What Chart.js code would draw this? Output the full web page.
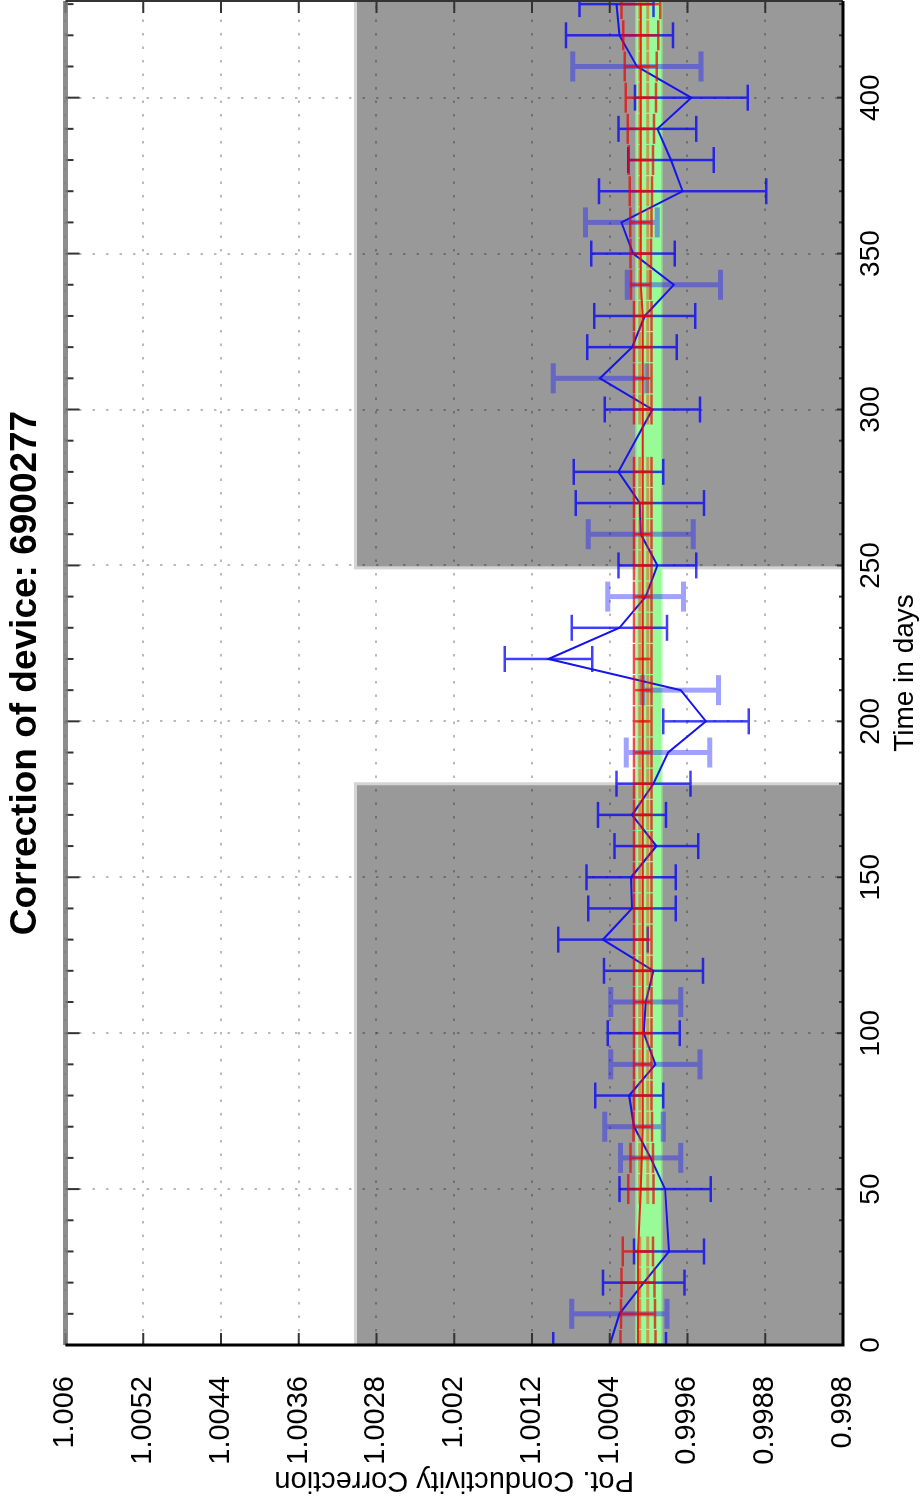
<!DOCTYPE html>
<html>
<head>
<meta charset="UTF-8">
<title>Correction of device: 6900277</title>
<script src="https://cdn.jsdelivr.net/npm/chart.js@4.4.1/dist/chart.umd.min.js"></script>
<style>
    html, body { margin: 0; padding: 0; background: #fff; overflow: hidden; }
    /* chart is drawn landscape, then turned a quarter to the left like the original */
    #wrap { position: absolute; left: 0; top: 0; width: 1499px; height: 922px;
            transform-origin: 0 0; transform: translate(0, 1499px) rotate(-90deg); }
    canvas { display: block; }
</style>
</head>
<body>
<div id="wrap"><canvas id="chart" width="1499" height="922"></canvas></div>
<script>
    var days = [0, 10, 20, 30, 50, 60, 70, 80, 90, 100, 110, 120, 130, 140, 150, 160, 170, 180, 190, 200,
        210, 220, 230, 240, 250, 260, 270, 280, 300, 310, 320, 330, 340, 350, 360, 370, 380, 390, 400, 410, 420, 430];
    var blueCorr = [1.00040, 1.00030, 1.00005, 0.99979, 0.99983, 0.99998, 1.00015, 1.00020, 0.99993, 1.00005,
        1.00003, 0.99995, 1.00047, 1.00017, 1.00018, 0.99992, 1.00017, 0.99995, 0.99980, 0.99941,
        0.99967, 1.00103, 1.00030, 1.00003, 0.99991, 1.00008, 1.00009, 1.00031, 0.99996, 1.00050,
        1.00017, 1.00004, 0.99974, 1.00016, 1.00028, 0.99965, 0.99977, 0.99991, 0.99956, 1.00012,
        1.00030, 1.00033];
    var blueErr = [0.00058, 0.00049, 0.00042, 0.00036, 0.00047, 0.00031, 0.00030, 0.00035, 0.00046, 0.00037,
        0.00036, 0.00051, 0.00046, 0.00045, 0.00046, 0.00043, 0.00035, 0.00038, 0.00043, 0.00044,
        0.00039, 0.00045, 0.00049, 0.00039, 0.00040, 0.00054, 0.00066, 0.00046, 0.00049, 0.00048,
        0.00046, 0.00052, 0.00048, 0.00043, 0.00037, 0.00086, 0.00044, 0.00040, 0.00058, 0.00066,
        0.00055, 0.00038];
    // profiles drawn with the paler error bars
    var lightDays = [10, 60, 70, 90, 110, 190, 210, 240, 260, 310, 340, 360, 410];

    var fitCorr = [1.00011, 1.00011, 1.00011, 1.00011, 1.00008, 1.00007, 1.00006, 1.00006, 1.00006, 1.00006,
        1.00006, 1.00006, 1.00006, 1.00006, 1.00006, 1.00006, 1.00006, 1.00006, 1.00006, 1.00006,
        1.00006, 1.00006, 1.00006, 1.00006, 1.00006, 1.00006, 1.00006, 1.00006, 1.00006, 1.00006,
        1.00006, 1.00006, 1.00008, 1.00008, 1.00008, 1.00008, 1.00008, 1.00008, 1.00008, 1.00008,
        1.00008, 1.00008];
    var fitErr = [0.000180, 0.000175, 0.000170, 0.000155, 0.000130, 0.000115, 0.000095, 0.000090, 0.000090, 0.000090,
        0.000090, 0.000090, 0.000090, 0.000090, 0.000090, 0.000090, 0.000090, 0.000090, 0.000090, 0.000090,
        0.000090, 0.000090, 0.000090, 0.000090, 0.000090, 0.000090, 0.000090, 0.000090, 0.000090, 0.000090,
        0.000090, 0.000090, 0.000100, 0.000105, 0.000110, 0.000115, 0.000125, 0.000135, 0.000155, 0.000165,
        0.000180, 0.000200];
    var fitLightCorr = 1.00005;
    var fitLightErr = 0.00004;

    var bandHigh = 1.000125;
    var bandLow = 0.99987;

    var grayFrom = [0, 249.7];
    var grayTo = [179.5, 431];
    var grayTop = 1.0030;

    var xMin = 0, xMax = 431;
    var yMin = 0.998, yMax = 1.006;
    var xTicks = [0, 50, 100, 150, 200, 250, 300, 350, 400];
    var yTicks = [0.998, 0.9988, 0.9996, 1.0004, 1.0012, 1.002, 1.0028, 1.0036, 1.0044, 1.0052, 1.006];
    var yTickLabels = ['0.998', '0.9988', '0.9996', '1.0004', '1.0012', '1.002', '1.0028', '1.0036', '1.0044', '1.0052', '1.006'];

    var FONT = "'Liberation Sans', Arial, Helvetica, sans-serif";

    function pts(xs, ys) {
        var out = [];
        for (var i = 0; i < xs.length; i++) out.push({ x: xs[i], y: ys[i] });
        return out;
    }

    function clipTo(ctx, a) {
        ctx.save();
        ctx.beginPath();
        ctx.rect(a.left, a.top, a.right - a.left, a.bottom - a.top);
        ctx.clip();
    }

    function errBar(chart, t, v, e, color, width, capHalf) {
        var ctx = chart.ctx, xs = chart.scales.x, ys = chart.scales.y;
        var px = xs.getPixelForValue(t);
        var lo = ys.getPixelForValue(v - e), hi = ys.getPixelForValue(v + e);
        ctx.strokeStyle = color;
        ctx.lineWidth = width;
        ctx.beginPath();
        ctx.moveTo(px, lo); ctx.lineTo(px, hi);
        ctx.moveTo(px - capHalf, lo); ctx.lineTo(px + capHalf, lo);
        ctx.moveTo(px - capHalf, hi); ctx.lineTo(px + capHalf, hi);
        ctx.stroke();
    }

    var grayPlugin = {
        id: 'grayPeriods',
        beforeDraw: function (chart) {
            var ctx = chart.ctx, a = chart.chartArea, xs = chart.scales.x, ys = chart.scales.y;
            clipTo(ctx, a);
            var yT = ys.getPixelForValue(grayTop), yB = ys.getPixelForValue(yMin);
            for (var i = 0; i < grayFrom.length; i++) {
                var x1 = xs.getPixelForValue(grayFrom[i]), x2 = xs.getPixelForValue(grayTo[i]);
                ctx.fillStyle = '#d4d4d4';
                ctx.fillRect(x1 - 3, yT - 3, x2 - x1 + 6, yB - yT + 3);
                ctx.fillStyle = '#999999';
                ctx.fillRect(x1, yT, x2 - x1, yB - yT);
            }
            ctx.restore();
        }
    };

    var errorBarPlugin = {
        id: 'errorBars',
        beforeDatasetDraw: function (chart, args) {
            if (chart.data.datasets[args.index].label !== 'blue') return;
            var ctx = chart.ctx;
            clipTo(ctx, chart.chartArea);
            for (var i = 0; i < days.length; i++) {
                if (lightDays.indexOf(days[i]) >= 0)
                    errBar(chart, days[i], blueCorr[i], blueErr[i], 'rgba(30,30,255,0.42)', 5, 15);
                else
                    errBar(chart, days[i], blueCorr[i], blueErr[i], 'rgba(0,0,250,0.75)', 2.5, 13);
            }
            ctx.restore();
        },
        afterDatasetDraw: function (chart, args) {
            if (chart.data.datasets[args.index].label !== 'fit') return;
            var ctx = chart.ctx;
            clipTo(ctx, chart.chartArea);
            for (var i = 0; i < days.length; i++) {
                errBar(chart, days[i], fitLightCorr, fitLightErr, 'rgba(255,40,0,0.45)', 3, 15);
                errBar(chart, days[i], fitCorr[i], fitErr[i], 'rgba(235,0,0,0.7)', 2.5, 15);
            }
            ctx.restore();
        }
    };

    var framePlugin = {
        id: 'frame',
        afterDraw: function (chart) {
            var ctx = chart.ctx, a = chart.chartArea, xs = chart.scales.x, ys = chart.scales.y;
            ctx.save();
            // inward tick marks
            ctx.strokeStyle = '#333';
            ctx.lineWidth = 2;
            ctx.beginPath();
            for (var t = 0; t <= 430; t += 10) {
                var px = xs.getPixelForValue(t);
                var major = t % 50 === 0;
                ctx.moveTo(px, a.bottom); ctx.lineTo(px, a.bottom - (major ? 6 : 4));
                ctx.moveTo(px, a.top); ctx.lineTo(px, a.top + (major ? 14 : 8));
            }
            for (var j = 0; j < yTicks.length; j++) {
                var py = ys.getPixelForValue(yTicks[j]);
                ctx.moveTo(a.left, py); ctx.lineTo(a.left + 12, py);
                ctx.moveTo(a.right, py); ctx.lineTo(a.right - 12, py);
            }
            ctx.stroke();
            // box
            ctx.lineWidth = 5;
            ctx.strokeStyle = 'rgba(120,120,120,0.85)';
            ctx.beginPath(); ctx.moveTo(a.left, a.top); ctx.lineTo(a.right, a.top); ctx.stroke();
            ctx.lineWidth = 2;
            ctx.strokeStyle = '#333';
            ctx.beginPath(); ctx.moveTo(a.right, a.top); ctx.lineTo(a.right, a.bottom); ctx.stroke();
            ctx.lineWidth = 3;
            ctx.strokeStyle = '#000';
            ctx.beginPath();
            ctx.moveTo(a.left, a.top); ctx.lineTo(a.left, a.bottom + 1.5);
            ctx.moveTo(a.left - 1.5, a.bottom); ctx.lineTo(a.right, a.bottom);
            ctx.stroke();
            ctx.restore();
        }
    };

    var gridStyle = { color: 'rgba(0,0,0,0.27)', lineWidth: 2, drawTicks: false };

    var config = {
        type: 'line',
        data: {
            datasets: [{
                label: 'bandHigh',
                data: [{ x: xMin, y: bandHigh }, { x: xMax, y: bandHigh }],
                borderColor: 'rgba(152,251,152,0.55)',
                borderWidth: 3,
                backgroundColor: '#98fb98',
                fill: '+1',
                pointRadius: 0,
                order: 6
            }, {
                label: 'bandLow',
                data: [{ x: xMin, y: bandLow }, { x: xMax, y: bandLow }],
                borderColor: 'rgba(152,251,152,0.55)',
                borderWidth: 3,
                fill: false,
                pointRadius: 0,
                order: 5
            }, {
                label: 'blue',
                data: pts(days, blueCorr),
                borderColor: 'rgb(20,20,235)',
                borderWidth: 2,
                fill: false,
                pointRadius: 0,
                tension: 0,
                order: 3
            }, {
                label: 'fit',
                data: pts(days, fitCorr),
                borderColor: 'rgba(235,0,0,0.85)',
                borderWidth: 2,
                fill: false,
                pointRadius: 0,
                tension: 0,
                order: 1
            }]
        },
        options: {
            responsive: false,
            animation: false,
            devicePixelRatio: 1,
            layout: { padding: { top: 0, right: 1, bottom: 0, left: 0 } },
            plugins: {
                legend: { display: false },
                tooltip: { enabled: false },
                title: {
                    display: true,
                    text: 'Correction of device: 6900277',
                    color: '#000',
                    font: { family: FONT, size: 37, weight: 'bold' },
                    padding: { top: 4, bottom: 17 },
                    fullSize: false
                }
            },
            scales: {
                x: {
                    type: 'linear',
                    min: xMin,
                    max: xMax,
                    afterBuildTicks: function (s) { s.ticks = xTicks.map(function (v) { return { value: v }; }); },
                    afterFit: function (s) { s.height = 79; },
                    ticks: {
                        color: '#000',
                        font: { family: FONT, size: 28 },
                        padding: 11,
                        maxRotation: 0,
                        autoSkip: false,
                        callback: function (v) { return String(v); }
                    },
                    grid: gridStyle,
                    border: { display: false, dash: [2.5, 11] },
                    title: {
                        display: true,
                        text: 'Time in days',
                        color: '#000',
                        font: { family: FONT, size: 28 },
                        padding: { top: 0, bottom: 0 }
                    }
                },
                y: {
                    type: 'linear',
                    min: yMin,
                    max: yMax,
                    afterBuildTicks: function (s) { s.ticks = yTicks.map(function (v) { return { value: v }; }); },
                    afterFit: function (s) { s.width = 154; },
                    ticks: {
                        color: '#000',
                        font: { family: FONT, size: 29 },
                        padding: 31,
                        autoSkip: false,
                        callback: function (v, i) { return yTickLabels[i]; }
                    },
                    grid: gridStyle,
                    border: { display: false, dash: [2.5, 11] },
                    title: {
                        display: true,
                        text: 'Pot. Conductivity Correction',
                        color: '#000',
                        font: { family: FONT, size: 29 },
                        padding: { top: 2, bottom: 0 }
                    }
                }
            }
        },
        plugins: [grayPlugin, errorBarPlugin, framePlugin]
    };

    var ctx = document.getElementById('chart').getContext('2d');
    window.myChart = new Chart(ctx, config);
</script>
</body>
</html>
